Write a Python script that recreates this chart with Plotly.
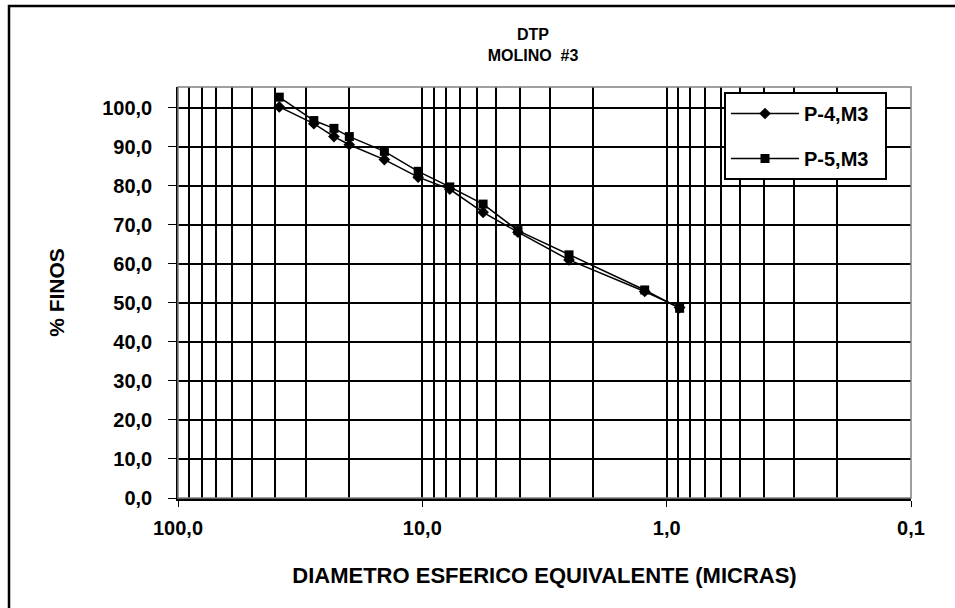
import plotly.graph_objects as go

diam = [38.5, 27.8, 23.0, 19.9, 14.3, 10.4, 7.72, 5.64, 4.06, 2.51, 1.23, 0.885]
p4 = [100.2, 95.9, 92.6, 90.5, 86.7, 82.2, 79.1, 73.2, 68.1, 61.0, 52.9, 48.8]
p5 = [102.7, 96.7, 94.7, 92.6, 88.8, 83.7, 79.7, 75.3, 68.5, 62.3, 53.3, 48.6]
xticks = [100, 10, 1, 0.1]
xticklabels = ["100,0", "10,0", "1,0", "0,1"]
yticks = [0, 10, 20, 30, 40, 50, 60, 70, 80, 90, 100]

FONT = "Liberation Sans, Arial, sans-serif"
FS = 20

fig = go.Figure()
fig.add_trace(go.Scatter(x=diam, y=p4, mode="lines+markers", name="P-4,M3\u00a0\u00a0",
                         legendgroup="a",
                         line=dict(color="black", width=1.5),
                         marker=dict(symbol="diamond", size=9, color="black")))
fig.add_trace(go.Scatter(x=diam, y=p5, mode="lines+markers", name="P-5,M3\u00a0\u00a0",
                         legendgroup="b",
                         line=dict(color="black", width=1.5),
                         marker=dict(symbol="square", size=9, color="black")))

L, R, T, B = 178, 911, 87, 498
W = R - L
H = B - T

fig.update_layout(
    width=955, height=608,
    margin=dict(l=L, r=955 - R, t=T, b=608 - B, autoexpand=False),
    paper_bgcolor="white", plot_bgcolor="white",
    separators=",.",
    font=dict(family=FONT, size=FS, color="black", weight="bold"),
    title=dict(text="DTP<br>MOLINO  #3", x=533/955, xanchor="center",
               y=1 - 40/608, yanchor="top", font=dict(size=16, weight="bold")),
    showlegend=True,
    legend=dict(x=(724 - L) / W, xanchor="left", y=(B - 92) / H, yanchor="top",
                bordercolor="black", borderwidth=2, bgcolor="white",
                font=dict(size=FS, weight="bold"), itemwidth=68, tracegroupgap=16),
    xaxis=dict(type="log", range=[2, -1], tickvals=xticks, ticktext=xticklabels,
               showgrid=True, gridcolor="black", gridwidth=1.5,
               minor=dict(dtick="D1", showgrid=True, gridcolor="black", gridwidth=1.5,
                          ticks=""),
               ticks="outside", ticklen=6, tickcolor="black", ticklabelstandoff=4,
               showline=True, linecolor="black", linewidth=3, mirror=False,
               tickfont=dict(size=FS, weight="bold"), zeroline=False,
               title=dict(text="DIAMETRO ESFERICO EQUIVALENTE (MICRAS)",
                          font=dict(size=22, weight="bold"), standoff=30)),
    yaxis=dict(range=[0, 105.3], tickvals=yticks, tickformat=".1f",
               showgrid=True, gridcolor="black", gridwidth=1.5,
               ticks="outside", ticklen=8, tickcolor="black", ticklabelstandoff=12,
               showline=True, linecolor="black", linewidth=1.5,
               tickfont=dict(size=FS, weight="bold"), zeroline=False,
               title=dict(text="% FINOS", font=dict(size=21, weight="bold"), standoff=32)),
)

# gray plot-area border (top/right) and outer chart border
fig.add_shape(type="rect", xref="paper", yref="paper", x0=0, y0=0, x1=1, y1=1,
              line=dict(color="#808080", width=1.5), layer="above")
fig.add_shape(type="rect", xref="paper", yref="paper",
              x0=(9 - L) / W, y0=(B - 640) / H,
              x1=(1000 - L) / W, y1=(B - 6) / H,
              line=dict(color="black", width=2.5), layer="below")

fig.write_html("out.html")
